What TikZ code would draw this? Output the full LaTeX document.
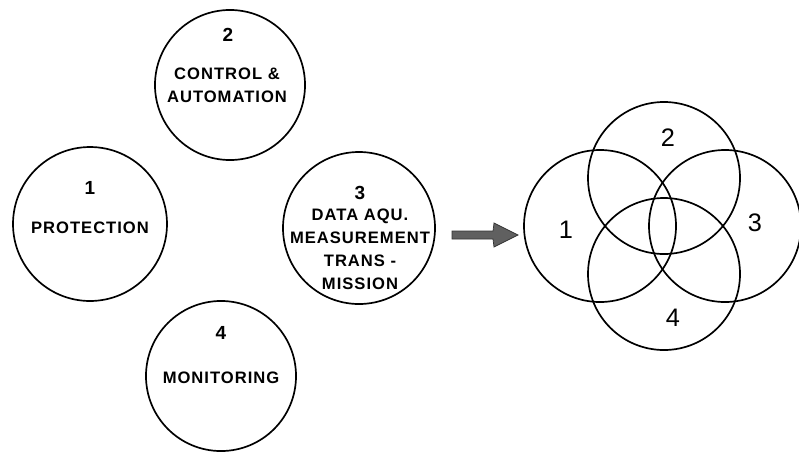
\documentclass[tikz,border=0pt]{standalone}
\usepackage{fontspec}
\usepackage{tikz}
\usetikzlibrary{positioning}
\newfontfamily\stencilfont[LetterSpace=6]{Liberation Sans}
\newfontfamily\vennfont{Liberation Sans}

\begin{document}
\begin{tikzpicture}[
          x=0.025cm, y=-0.025cm,
          topic/.style={circle, draw, line width=1.2pt, inner sep=0pt},
          venn/.style={circle, draw, line width=1.2pt, inner sep=0pt, minimum size=108.1pt},
          numlbl/.style={font=\stencilfont\bfseries\fontsize{13.5}{15}\selectfont, inner sep=0pt},
          txtlbl/.style={font=\stencilfont\bfseries\fontsize{11.8}{16.3}\selectfont, align=center, inner sep=0pt},
          vennnum/.style={font=\vennfont\fontsize{18}{20}\selectfont, inner sep=0pt}
        ]
        \useasboundingbox (0,0) rectangle (799,454);
        % the four separate areas
        \node[topic, minimum size=109.5pt] (prot) at (90,224) {};
        \node[topic, minimum size=106.7pt] (ctrl) at (230,85) {};
        \node[topic, minimum size=108.1pt] (data) at (359,228) {};
        \node[topic, minimum size=106.7pt] (mon) at (221,376) {};
        \node[numlbl] (prot-n) at (90,188) {1};
        \node[txtlbl] (prot-t) at (90,228) {PROTECTION};
        \node[numlbl] (ctrl-n) at (228,35) {2};
        \node[txtlbl] (ctrl-t) at (227,85) {CONTROL \&\\AUTOMATION};
        \node[numlbl] (data-n) at (360,193) {3};
        \node[txtlbl] (data-t) at (360,249) {DATA AQU.\\MEASUREMENT\\TRANS -\\MISSION};
        \node[numlbl] (mon-n) at (221,333) {4};
        \node[txtlbl] (mon-t) at (221,378) {MONITORING};
        % arrow
        \filldraw[fill=gray!75!black, draw=black!80, line width=0.5pt]
          (452,231) -- (493,231) -- (494,223) -- (518,235)
          -- (494,247) -- (493,239) -- (452,239) -- cycle;
        % overlapping areas
        \node[venn] (v1) at (600,226) {};
        \node[venn] (v2) at (664,178) {};
        \node[venn] (v3) at (725,226) {};
        \node[venn] (v4) at (664,274) {};
        \node[vennnum] (v1-n) at (566,230) {1};
        \node[vennnum] (v2-n) at (668,138) {2};
        \node[vennnum] (v3-n) at (755,223) {3};
        \node[vennnum] (v4-n) at (673,318) {4};
\end{tikzpicture}
\end{document}
